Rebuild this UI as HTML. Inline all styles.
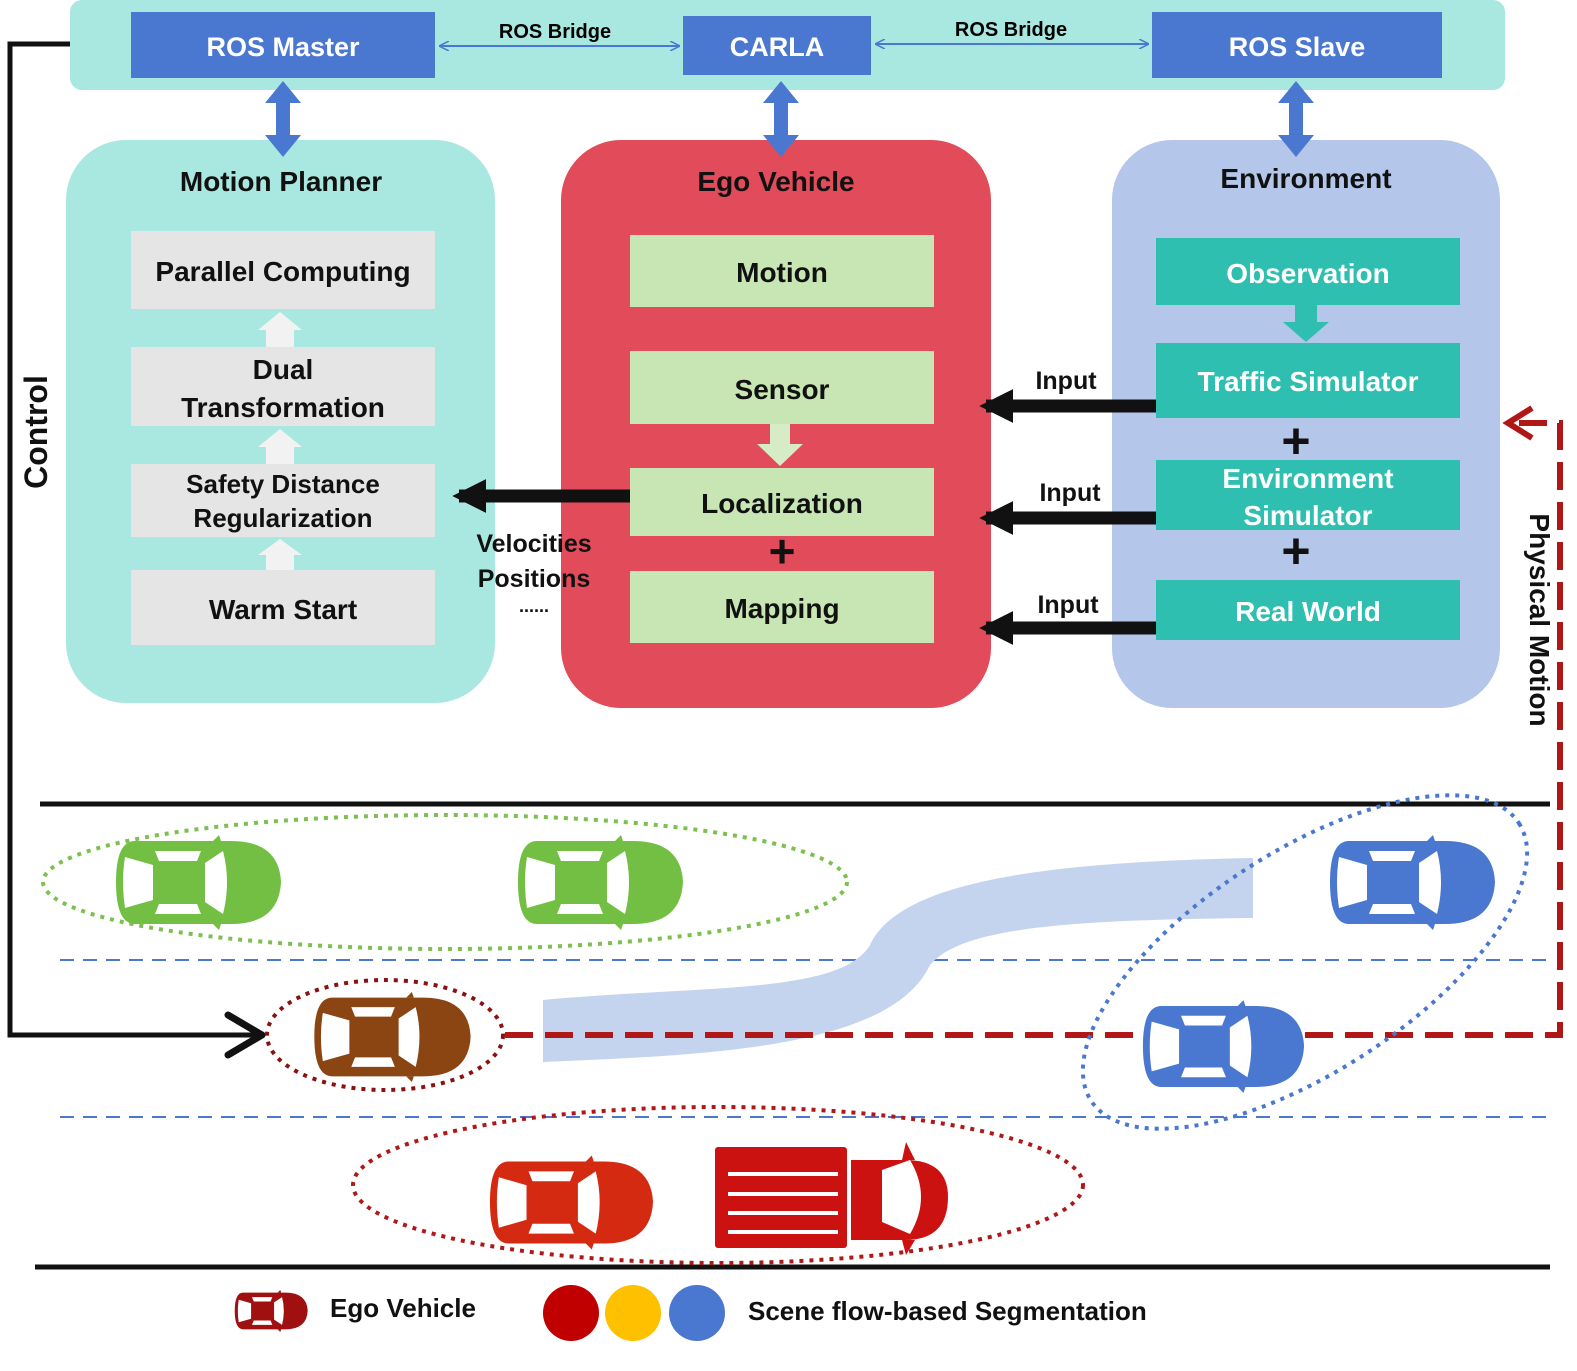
<!DOCTYPE html>
<html><head><meta charset="utf-8"><style>
html,body{margin:0;padding:0;background:#fff;}
svg text{font-family:"Liberation Sans",Arial,sans-serif;font-weight:bold;}
</style></head><body>
<svg width="1577" height="1366" viewBox="0 0 1577 1366" xmlns="http://www.w3.org/2000/svg">
<defs>
<symbol id="car" viewBox="0 0 170 95">
<path d="M22,6 H118 Q166,6 168,47 Q166,89 118,89 H22 Q3,89 3,47 Q3,6 22,6Z" fill="currentColor"/>
<path d="M12,22 L40,30 L40,65 L12,73 Q8,47 12,22Z" fill="#fff"/>
<path d="M92,28 L110,16 Q118,47 110,79 L92,67Z" fill="#fff"/>
<path d="M42,16 L88,16 L84,26 L46,26Z" fill="#fff"/>
<path d="M42,79 L88,79 L84,69 L46,69Z" fill="#fff"/>
<path d="M100,6 L106,0 L108,6Z M100,89 L106,95 L108,89Z" fill="currentColor"/>
</symbol>
<marker id="th" viewBox="0 0 10 10" refX="9" refY="5" markerWidth="10" markerHeight="10" markerUnits="userSpaceOnUse" orient="auto-start-reverse"><path d="M0,0 L10,5 L0,10" fill="none" stroke="#4a78d0" stroke-width="1.5"/></marker>
<marker id="kh" viewBox="0 0 10 10" refX="8" refY="5" markerWidth="2.6" markerHeight="2.6" orient="auto"><path d="M0,0 L10,5 L0,10Z" fill="#111"/></marker>
<path id="vda" d="M0,-38 L18,-16 L7,-16 L7,16 L18,16 L0,38 L-18,16 L-7,16 L-7,-16 L-18,-16Z" fill="#4a78d0"/>
</defs>

<rect x="70" y="0" width="1435" height="90" rx="12" fill="#a8e8e0"/>
<rect x="131" y="12" width="304" height="66" fill="#4a78d0"/>
<rect x="683" y="16" width="188" height="59" fill="#4a78d0"/>
<rect x="1152" y="12" width="290" height="66" fill="#4a78d0"/>
<g fill="#fff" font-size="27" text-anchor="middle">
<text x="283" y="56">ROS Master</text><text x="777" y="56">CARLA</text><text x="1297" y="56">ROS Slave</text></g>
<line x1="440" y1="46" x2="679" y2="46" stroke="#4a78d0" stroke-width="2" marker-start="url(#th)" marker-end="url(#th)"/>
<line x1="876" y1="44" x2="1148" y2="44" stroke="#4a78d0" stroke-width="2" marker-start="url(#th)" marker-end="url(#th)"/>
<text x="555" y="38" font-size="20" text-anchor="middle">ROS Bridge</text>
<text x="1011" y="36" font-size="20" text-anchor="middle">ROS Bridge</text>

<rect x="66" y="140" width="429" height="563" rx="60" fill="#a8e8e0"/>
<rect x="561" y="140" width="430" height="568" rx="60" fill="#e24b5a"/>
<rect x="1112" y="140" width="388" height="568" rx="60" fill="#b4c6ea"/>

<use href="#vda" x="283" y="119"/><use href="#vda" x="781" y="119"/><use href="#vda" x="1296" y="119"/>

<g font-size="28" text-anchor="middle" fill="#111">
<text x="281" y="191">Motion Planner</text><text x="776" y="191">Ego Vehicle</text><text x="1306" y="188">Environment</text></g>

<g fill="#e5e5e5">
<rect x="131" y="231" width="304" height="78"/><rect x="131" y="347" width="304" height="79"/>
<rect x="131" y="464" width="304" height="73"/><rect x="131" y="570" width="304" height="75"/></g>
<g fill="#f2f2f2"><path d="M266,347 V330 H258 L280,312 L302,330 H294 V347Z"/>
<path d="M266,464 V447 H258 L280,429 L302,447 H294 V464Z"/>
<path d="M266,570 V555 H258 L280,539 L302,555 H294 V570Z"/></g>
<g font-size="28" text-anchor="middle" fill="#111">
<text x="283" y="281">Parallel Computing</text>
<text x="283" y="379">Dual</text><text x="283" y="417">Transformation</text>
<text x="283" y="493" font-size="26">Safety Distance</text><text x="283" y="527" font-size="26">Regularization</text>
<text x="283" y="619">Warm Start</text></g>

<g fill="#c8e6b4">
<rect x="630" y="235" width="304" height="72"/><rect x="630" y="351" width="304" height="73"/>
<rect x="630" y="468" width="304" height="68"/><rect x="630" y="571" width="304" height="72"/></g>
<path d="M770,424 V444 H757 L780,466 L803,444 H790 V424Z" fill="#d6ecc6"/>
<g font-size="28" text-anchor="middle" fill="#111">
<text x="782" y="282">Motion</text><text x="782" y="399">Sensor</text>
<text x="782" y="513">Localization</text><text x="782" y="618">Mapping</text>
<text x="782" y="567" font-size="46">+</text></g>

<g fill="#2ebfb0">
<rect x="1156" y="238" width="304" height="67"/><rect x="1156" y="343" width="304" height="75"/>
<rect x="1156" y="460" width="304" height="70"/><rect x="1156" y="580" width="304" height="60"/></g>
<path d="M1295,305 V322 H1283 L1306,342 L1329,322 H1317 V305Z" fill="#2ebfb0"/>
<g font-size="28" text-anchor="middle" fill="#fff">
<text x="1308" y="283">Observation</text><text x="1308" y="391">Traffic Simulator</text>
<text x="1308" y="488">Environment</text><text x="1308" y="525">Simulator</text>
<text x="1308" y="621">Real World</text></g>
<g font-size="50" text-anchor="middle" fill="#111"><text x="1296" y="458">+</text><text x="1296" y="568">+</text></g>

<g stroke="#111" stroke-width="13" marker-end="url(#kh)">
<line x1="1156" y1="406" x2="986" y2="406"/><line x1="1156" y1="518" x2="986" y2="518"/>
<line x1="1156" y1="628" x2="986" y2="628"/><line x1="630" y1="496" x2="459" y2="496"/></g>
<g font-size="25" text-anchor="middle" fill="#111">
<text x="1066" y="389">Input</text><text x="1070" y="501">Input</text><text x="1068" y="613">Input</text>
<text x="534" y="552">Velocities</text><text x="534" y="587">Positions</text><text x="534" y="612" font-size="18">......</text></g>

<path d="M70,44 H10 V1035 H258" fill="none" stroke="#111" stroke-width="5"/>
<path d="M228,1015 L262,1035 L228,1055" fill="none" stroke="#111" stroke-width="7" stroke-linecap="round" stroke-linejoin="round"/>
<text transform="translate(47,432) rotate(-90)" font-size="32" text-anchor="middle" fill="#111">Control</text>

<line x1="40" y1="804" x2="1550" y2="804" stroke="#111" stroke-width="5"/>
<line x1="35" y1="1267" x2="1550" y2="1267" stroke="#111" stroke-width="5"/>
<g stroke="#4a78d0" stroke-width="2" stroke-dasharray="14,9">
<line x1="60" y1="960" x2="1550" y2="960"/><line x1="60" y1="1117" x2="1550" y2="1117"/></g>

<path d="M543,1000 C700,985 840,995 870,945 C900,880 1050,862 1253,858 L1253,918 C1050,920 960,930 930,965 C890,1050 700,1055 543,1062Z" fill="#c4d4ee"/>

<path d="M505,1035 H1560 V423 H1512" fill="none" stroke="#b01818" stroke-width="6" stroke-dasharray="28,12"/>
<path d="M1532,408 L1508,423 L1532,438" fill="none" stroke="#b01818" stroke-width="6"/>
<text transform="translate(1530,620) rotate(90)" font-size="28" text-anchor="middle" fill="#111">Physical Motion</text>

<g fill="none" stroke-width="4" stroke-dasharray="4,6">
<ellipse cx="445" cy="882" rx="402" ry="67" stroke="#7cc050"/>
<ellipse cx="385" cy="1035" rx="118" ry="55" stroke="#8b1010"/>
<ellipse cx="1305" cy="962" rx="255" ry="110" transform="rotate(-33 1305 962)" stroke="#4a78d0"/>
<ellipse cx="718" cy="1185" rx="365" ry="78" stroke="#b01818"/></g>

<use href="#car" x="113" y="835" width="170" height="95" color="#72bf44"/>
<use href="#car" x="515" y="835" width="170" height="95" color="#72bf44"/>
<use href="#car" x="1327" y="835" width="170" height="95" color="#4a78d0"/>
<use href="#car" x="1140" y="998" width="166" height="97" color="#4a78d0"/>
<use href="#car" x="307" y="992" width="170" height="90" color="#8b4513"/>
<use href="#car" x="487" y="1155" width="168" height="95" color="#d52a12"/>
<rect x="715" y="1147" width="132" height="101" rx="3" fill="#cc1111"/>
<g stroke="#fff" stroke-width="4"><line x1="728" y1="1174" x2="838" y2="1174"/><line x1="728" y1="1194" x2="838" y2="1194"/><line x1="728" y1="1213" x2="838" y2="1213"/><line x1="728" y1="1232" x2="838" y2="1232"/></g>
<path d="M851,1160 H905 Q948,1160 948,1197 Q948,1240 905,1240 H851Z" fill="#cc1111"/>
<path d="M882,1170 L910,1160 Q932,1197 910,1234 L882,1222Z" fill="#fff"/>
<path d="M902,1160 L906,1142 L915,1160Z M902,1240 L906,1255 L915,1240Z" fill="#cc1111"/>

<use href="#car" x="228" y="1290" width="86" height="42" color="#a01010"/>
<text x="330" y="1317" font-size="26" fill="#111">Ego Vehicle</text>
<circle cx="571" cy="1313" r="28" fill="#c00000"/>
<circle cx="633" cy="1313" r="28" fill="#ffc000"/>
<circle cx="697" cy="1313" r="28" fill="#4a78d0"/>
<text x="748" y="1320" font-size="26" fill="#111">Scene flow-based Segmentation</text>
</svg>
</body></html>
